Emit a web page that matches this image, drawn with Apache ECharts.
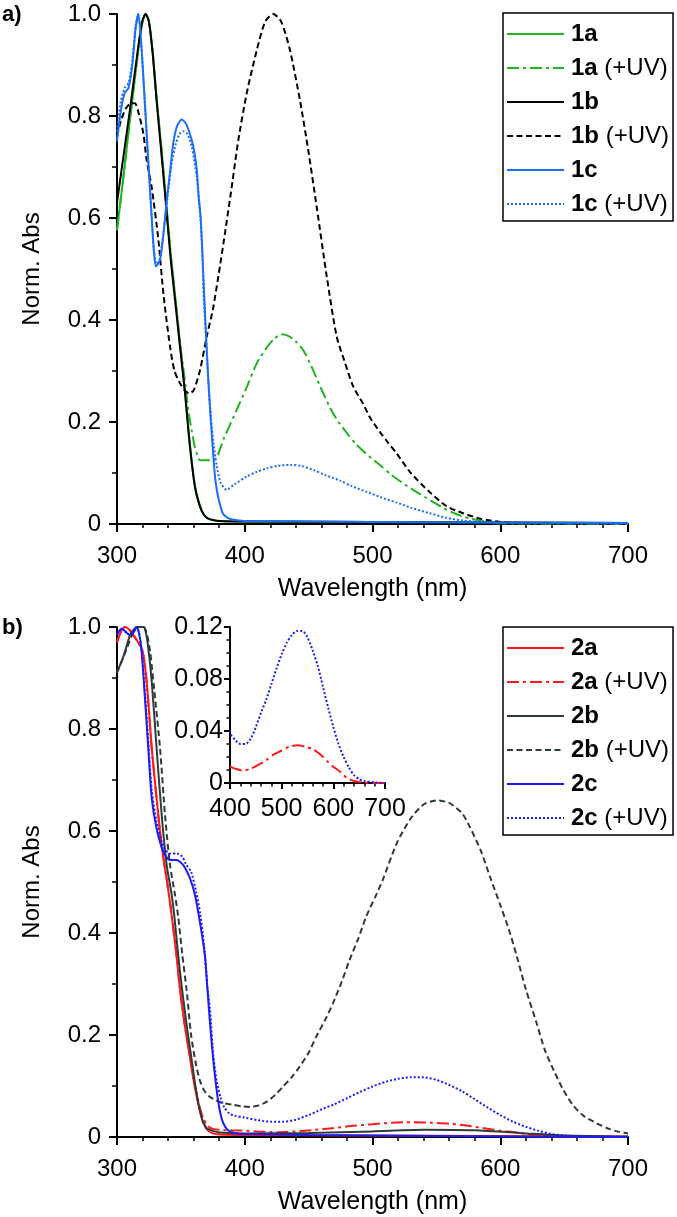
<!DOCTYPE html>
<html>
<head>
<meta charset="utf-8">
<script src="https://cdn.jsdelivr.net/npm/echarts@6/dist/echarts.min.js"></script>
<style>
  html, body { margin: 0; padding: 0; background: #fff; }
  #chart { width: 677px; height: 1217px; }
</style>
</head>
<body>
<div id="chart"></div>
<script>
// ---- panel a) ----
var wl1a = [300, 305, 310, 315, 318, 320, 322.4, 325, 328, 331, 335, 338, 342, 345.4, 349.3, 353.2, 357.1, 361, 365, 368, 371, 375, 380, 400, 500, 600, 700];
var abs1a = [0.576, 0.68, 0.79, 0.895, 0.955, 0.985, 1.0, 0.985, 0.925, 0.835, 0.73, 0.645, 0.53, 0.45, 0.355, 0.262, 0.155, 0.075, 0.035, 0.018, 0.011, 0.008, 0.006, 0.005, 0.004, 0.003, 0.002];

var wl1aUV = [300, 305, 310, 315, 318, 320, 322.4, 325, 328, 331, 335, 338, 342, 345.4, 349.3, 353.6, 356, 358.4, 361, 363, 365, 375.5, 384, 393.7, 401, 409.4, 417, 423, 428.5, 434, 440, 446, 452, 459, 466, 472, 480, 487, 495, 506, 515, 525, 535, 545, 555, 565, 576, 586, 596, 610, 700];
var abs1aUV = [0.576, 0.68, 0.79, 0.895, 0.955, 0.985, 1.0, 0.985, 0.925, 0.835, 0.73, 0.645, 0.53, 0.45, 0.355, 0.273, 0.22, 0.184, 0.15, 0.135, 0.125, 0.125, 0.17, 0.224, 0.265, 0.315, 0.345, 0.363, 0.372, 0.369, 0.358, 0.34, 0.31, 0.27, 0.232, 0.205, 0.178, 0.157, 0.138, 0.115, 0.096, 0.078, 0.062, 0.047, 0.032, 0.02, 0.011, 0.006, 0.002, 0.001, 0];

var wl1b = [300, 305, 310, 315, 318, 320, 322.4, 325, 328, 331, 335, 338, 342, 345.4, 349.3, 353.2, 357.1, 361, 365, 368, 371, 375, 380, 400, 500, 600, 700];
var abs1b = [0.63, 0.72, 0.81, 0.905, 0.96, 0.988, 1.0, 0.985, 0.92, 0.83, 0.72, 0.635, 0.52, 0.44, 0.348, 0.257, 0.152, 0.073, 0.034, 0.018, 0.011, 0.008, 0.006, 0.005, 0.004, 0.003, 0.002];

var wl1bUV = [300, 303, 307, 311, 314, 317, 320.6, 323.2, 327.1, 332.4, 336.3, 341.5, 345, 349.3, 353, 356.5, 360, 365, 370.2, 375, 379.3, 384.5, 389.8, 395, 401.5, 409.4, 416, 422.3, 428.5, 435.4, 443.2, 449.7, 456.3, 464.2, 472, 478, 485, 492.8, 498, 505.9, 512, 519, 530, 545, 558, 571, 585, 600, 620, 700];
var abs1bUV = [0.76, 0.79, 0.815, 0.825, 0.825, 0.805, 0.766, 0.714, 0.661, 0.557, 0.452, 0.348, 0.3, 0.276, 0.262, 0.256, 0.262, 0.302, 0.367, 0.42, 0.485, 0.57, 0.661, 0.753, 0.844, 0.929, 0.985, 1.0, 0.985, 0.929, 0.831, 0.733, 0.622, 0.485, 0.367, 0.32, 0.269, 0.235, 0.209, 0.18, 0.16, 0.138, 0.1, 0.062, 0.035, 0.021, 0.01, 0.004, 0.002, 0.001];

var wl1c = [300, 303, 306, 309, 312, 314.5, 316.7, 319, 321, 323.2, 325, 327.2, 329, 330.5, 332, 333.7, 336, 339, 341.5, 344, 347, 350.6, 354, 358.5, 360.5, 362.4, 364, 365.5, 367.6, 369.5, 371.5, 373.5, 375.5, 377, 379, 381, 383, 386, 390, 400, 450, 500, 600, 700];
var abs1c = [0.75, 0.81, 0.845, 0.855, 0.9, 0.97, 1.0, 0.94, 0.86, 0.766, 0.69, 0.6, 0.53, 0.505, 0.51, 0.518, 0.56, 0.635, 0.69, 0.746, 0.78, 0.793, 0.785, 0.753, 0.73, 0.695, 0.64, 0.6, 0.485, 0.38, 0.282, 0.2, 0.13, 0.086, 0.055, 0.035, 0.02, 0.013, 0.009, 0.006, 0.005, 0.004, 0.003, 0.002];

var wl1cUV = [300, 303, 306, 309, 312, 314.5, 316.7, 319, 321, 323.2, 325, 327.2, 329, 331, 333, 335, 337, 340, 343, 346, 349, 352, 355, 358.5, 362.4, 366.3, 368, 370, 371.5, 373.5, 375.5, 378, 381, 385.8, 392, 401.5, 409, 417.2, 426, 435.4, 444, 453.7, 463, 474.6, 484, 495.5, 505.9, 519, 530, 545, 558, 570, 585, 600, 700];
var abs1cUV = [0.77, 0.83, 0.855, 0.865, 0.91, 0.975, 1.0, 0.94, 0.86, 0.766, 0.69, 0.6, 0.535, 0.51, 0.515, 0.545, 0.585, 0.65, 0.71, 0.745, 0.765, 0.77, 0.765, 0.74, 0.68, 0.565, 0.44, 0.35, 0.28, 0.21, 0.16, 0.115, 0.082, 0.067, 0.078, 0.093, 0.102, 0.109, 0.114, 0.116, 0.114, 0.106, 0.096, 0.085, 0.074, 0.063, 0.053, 0.042, 0.032, 0.021, 0.012, 0.007, 0.004, 0.002, 0.001];

// ---- panel b) ----
var wl2a = [300, 303, 306.3, 309.5, 312.8, 316, 319.3, 321.3, 323.2, 325.2, 327.2, 331, 335, 338.9, 342, 346.4, 349.3, 353, 357, 360, 362.4, 365, 367.6, 371, 375, 380, 400, 500, 600, 700];
var abs2a = [0.97, 0.99, 1.0, 0.995, 0.984, 0.972, 0.958, 0.935, 0.893, 0.83, 0.762, 0.664, 0.57, 0.505, 0.45, 0.36, 0.29, 0.22, 0.157, 0.11, 0.079, 0.05, 0.027, 0.013, 0.007, 0.005, 0.004, 0.003, 0.002, 0.001];

var wl2aUV = [300, 303, 306.3, 309.5, 312.8, 316, 319.3, 321.3, 323.2, 325.2, 327.2, 331, 335, 338.9, 342, 346.4, 349.3, 353, 357, 360, 362.4, 365, 367.6, 371, 375, 380, 390, 400, 410, 425, 440, 455, 470, 485, 500, 515, 530, 545, 560, 575, 590, 600, 613, 626, 640, 660, 700];
var abs2aUV = [0.97, 0.99, 1.0, 0.995, 0.984, 0.972, 0.958, 0.935, 0.893, 0.83, 0.762, 0.664, 0.57, 0.505, 0.45, 0.36, 0.29, 0.22, 0.16, 0.115, 0.085, 0.057, 0.036, 0.022, 0.016, 0.014, 0.013, 0.0125, 0.011, 0.0095, 0.011, 0.014, 0.0175, 0.022, 0.025, 0.028, 0.029, 0.028, 0.026, 0.022, 0.016, 0.0125, 0.0087, 0.004, 0.0015, 0.0003, 0];

var wl2b = [300, 304, 307, 310.2, 313, 315.4, 318, 320.6, 322.5, 324.5, 327.2, 331, 335, 338.9, 342.8, 345, 348, 351, 354.5, 358.5, 362, 366, 370, 375, 380, 400, 450, 500, 540, 580, 620, 650, 700];
var abs2b = [0.912, 0.935, 0.958, 0.984, 0.995, 1.0, 1.0, 1.0, 0.99, 0.958, 0.893, 0.762, 0.631, 0.533, 0.475, 0.43, 0.354, 0.288, 0.22, 0.15, 0.09, 0.04, 0.018, 0.012, 0.009, 0.007, 0.008, 0.011, 0.014, 0.013, 0.007, 0.003, 0.001];

var wl2bUV = [300, 304, 308, 312, 316, 318.5, 321, 323.5, 326, 329, 333.7, 337.6, 341.5, 345.4, 348, 351, 354.5, 358, 362, 365, 368, 372, 376, 382, 391, 398, 404, 411, 417, 424, 430, 437, 443, 450, 456, 463, 469, 476, 482, 489, 495, 502, 508, 519, 530, 540, 550, 560, 570, 576, 585, 592, 600, 607, 613, 620, 628.5, 635, 642, 649.4, 657, 665, 675.5, 685, 693, 700];
var abs2bUV = [0.91, 0.935, 0.96, 0.985, 1.0, 1.0, 1.0, 0.985, 0.95, 0.88, 0.762, 0.631, 0.533, 0.475, 0.43, 0.36, 0.288, 0.2, 0.14, 0.11, 0.092, 0.08, 0.074, 0.067, 0.063, 0.06, 0.059, 0.062, 0.069, 0.083, 0.099, 0.118, 0.138, 0.165, 0.197, 0.23, 0.262, 0.305, 0.347, 0.39, 0.432, 0.47, 0.504, 0.576, 0.625, 0.652, 0.66, 0.655, 0.635, 0.609, 0.56, 0.51, 0.455, 0.405, 0.354, 0.29, 0.223, 0.17, 0.13, 0.092, 0.062, 0.042, 0.027, 0.016, 0.01, 0.007];

var wl2c = [300, 303.7, 307, 310.2, 313, 315.4, 317.5, 319.3, 321.9, 324.5, 327.2, 331, 336.3, 341.5, 346.7, 351.9, 357.1, 361, 365, 368.9, 370.8, 372.8, 375.4, 378, 380.6, 383.2, 387, 392, 400, 450, 500, 550, 600, 700];
var abs2c = [0.985, 0.997, 0.99, 0.984, 0.99, 1.0, 0.985, 0.952, 0.86, 0.762, 0.664, 0.605, 0.559, 0.543, 0.543, 0.533, 0.507, 0.475, 0.42, 0.354, 0.29, 0.223, 0.15, 0.092, 0.05, 0.027, 0.013, 0.008, 0.006, 0.004, 0.003, 0.002, 0.001, 0];

var wl2cUV = [300, 303.7, 307, 310.2, 313, 315.4, 317.5, 319.3, 321.9, 324.5, 327.2, 331, 336.3, 341.5, 347, 351, 354, 358, 362, 365, 368, 370.5, 372.8, 375.4, 378, 381, 384, 388, 392, 400, 410, 420, 430, 440, 450, 460, 470, 480, 490, 500, 510, 520, 530, 540, 550, 560, 570, 580, 590, 600, 610, 620, 630, 640, 650, 660, 680, 700];
var abs2cUV = [0.985, 0.997, 0.99, 0.984, 0.99, 1.0, 0.985, 0.952, 0.87, 0.775, 0.68, 0.618, 0.57, 0.556, 0.556, 0.55, 0.535, 0.52, 0.48, 0.44, 0.38, 0.3, 0.25, 0.16, 0.11, 0.078, 0.058, 0.046, 0.042, 0.038, 0.033, 0.03, 0.03, 0.034, 0.043, 0.054, 0.064, 0.076, 0.088, 0.099, 0.108, 0.114, 0.117, 0.117, 0.112, 0.102, 0.09, 0.074, 0.058, 0.043, 0.03, 0.02, 0.012, 0.006, 0.003, 0.0015, 0.0005, 0];

var xTicks = { min: 300, max: 700, interval: 100 };
var yTicks = { min: 0, max: 1, interval: 0.2 };
var insetX = { min: 400, max: 700, interval: 100 };
var insetY = { min: 0, max: 0.12, interval: 0.04 };

var FONT = "'Liberation Sans', Arial, sans-serif";

function pts(xs, ys) {
  return xs.map(function (x, i) { return [x, ys[i]]; });
}

function mkAxis(idx, r, extra) {
  var ax = {
    type: 'value',
    gridIndex: idx,
    min: r.min, max: r.max, interval: r.interval,
    axisLine: { show: true, onZero: false, lineStyle: { color: '#000', width: 2 } },
    axisTick: { show: true, length: 8, lineStyle: { color: '#000', width: 2 } },
    minorTick: { show: true, splitNumber: 5, length: 4, lineStyle: { color: '#000', width: 1.5 } },
    splitLine: { show: false },
    axisLabel: { color: '#000', fontSize: 24, fontFamily: FONT, margin: 20 }
  };
  for (var k in extra) ax[k] = extra[k];
  return ax;
}

function line(name, xi, yi, xs, ys, color, type) {
  return {
    name: name,
    type: 'line',
    xAxisIndex: xi, yAxisIndex: yi,
    data: pts(xs, ys),
    showSymbol: false,
    symbol: 'none',
    smooth: 0.25,
    clip: xi === 2,
    lineStyle: { color: color, width: 2, type: type || 'solid' },
    itemStyle: { color: color },
    z: 3
  };
}

var GREEN = '#22b422', BLUE1 = '#1c6ef2', RED = '#ff1a1a', GREY = '#2e3b3b', BLUE2 = '#1c1cf5';
var DASHDOT = [12, 4, 3, 4], DASH = [6, 3.5], DOT = [2, 2];

function legendFmt(name) {
  var i = name.indexOf(' ');
  if (i < 0) return '{b|' + name + '}';
  return '{b|' + name.slice(0, i) + '}{n|' + name.slice(i) + '}';
}
function mkLegend(top, names) {
  return {
    orient: 'vertical',
    left: 503, top: top,
    data: names,
    selectedMode: false,
    backgroundColor: '#fff',
    borderColor: '#000', borderWidth: 1.5,
    padding: [9, 4, 5, 3],
    itemWidth: 57, itemHeight: 14, itemGap: 10,
    // hide the round marker that line series put in the middle of the icon
    itemStyle: { color: 'rgba(0,0,0,0)', borderColor: 'rgba(0,0,0,0)', borderWidth: 0 },
    formatter: legendFmt,
    textStyle: {
      fontFamily: FONT, fontSize: 24, lineHeight: 22, color: '#000',
      rich: {
        b: { fontFamily: FONT, fontSize: 24, fontWeight: 'bold', color: '#000', padding: [0, 0, 0, 2] },
        n: { fontFamily: FONT, fontSize: 24, color: '#000' }
      }
    }
  };
}

var chart = echarts.init(document.getElementById('chart'), null, { renderer: 'canvas' });

var yFmt1 = function (v) { return v === 0 ? '0' : v.toFixed(1); };
var yFmt2 = function (v) { return v === 0 ? '0' : v.toFixed(2); };

var xName = { color: '#000', fontSize: 25, fontFamily: FONT };
var yName = { color: '#000', fontSize: 24, fontFamily: FONT };

var option = {
  backgroundColor: '#fff',
  animation: false,
  textStyle: { fontFamily: FONT },
  graphic: [
    { type: 'text', left: 2, top: 4, style: { text: 'a)', font: 'bold 22px ' + FONT, fill: '#000' } },
    { type: 'text', left: 2, top: 617, style: { text: 'b)', font: 'bold 22px ' + FONT, fill: '#000' } }
  ],
  grid: [
    { left: 117, right: 49, top: 14, bottom: 693 },
    { left: 117, right: 49, top: 627, bottom: 80 },
    { left: 230, right: 292, top: 627, bottom: 434 }
  ],
  xAxis: [
    mkAxis(0, xTicks, { name: 'Wavelength (nm)', nameLocation: 'middle', nameGap: 53, nameTextStyle: xName }),
    mkAxis(1, xTicks, { name: 'Wavelength (nm)', nameLocation: 'middle', nameGap: 53, nameTextStyle: xName }),
    mkAxis(2, insetX, {
      axisTick: { show: true, length: 6, lineStyle: { color: '#000', width: 2 } },
      minorTick: { show: true, splitNumber: 5, length: 3.5, lineStyle: { color: '#000', width: 1.5 } },
      axisLabel: { color: '#000', fontSize: 25, fontFamily: FONT, margin: 14 }
    })
  ],
  yAxis: [
    mkAxis(0, yTicks, {
      name: 'Norm. Abs', nameLocation: 'middle', nameGap: 73, nameTextStyle: yName,
      minorTick: { show: true, splitNumber: 2, length: 5, lineStyle: { color: '#000', width: 1.5 } },
      axisLabel: { color: '#000', fontSize: 24, fontFamily: FONT, margin: 16, formatter: yFmt1 }
    }),
    mkAxis(1, yTicks, {
      name: 'Norm. Abs', nameLocation: 'middle', nameGap: 73, nameTextStyle: yName,
      minorTick: { show: true, splitNumber: 2, length: 5, lineStyle: { color: '#000', width: 1.5 } },
      axisLabel: { color: '#000', fontSize: 24, fontFamily: FONT, margin: 16, formatter: yFmt1 }
    }),
    mkAxis(2, insetY, {
      axisTick: { show: true, length: 6, lineStyle: { color: '#000', width: 2 } },
      minorTick: { show: true, splitNumber: 4, length: 3.5, lineStyle: { color: '#000', width: 1.5 } },
      axisLabel: { color: '#000', fontSize: 25, fontFamily: FONT, margin: 7, formatter: yFmt2 }
    })
  ],
  legend: [
    mkLegend(13, ['1a', '1a (+UV)', '1b', '1b (+UV)', '1c', '1c (+UV)']),
    mkLegend(627, ['2a', '2a (+UV)', '2b', '2b (+UV)', '2c', '2c (+UV)'])
  ],
  series: [
    line('1a', 0, 0, wl1a, abs1a, GREEN),
    line('1a (+UV)', 0, 0, wl1aUV, abs1aUV, GREEN, DASHDOT),
    line('1b', 0, 0, wl1b, abs1b, '#000'),
    line('1b (+UV)', 0, 0, wl1bUV, abs1bUV, '#000', DASH),
    line('1c', 0, 0, wl1c, abs1c, BLUE1),
    line('1c (+UV)', 0, 0, wl1cUV, abs1cUV, BLUE1, DOT),

    line('2a', 1, 1, wl2a, abs2a, RED),
    line('2a (+UV)', 1, 1, wl2aUV, abs2aUV, RED, DASHDOT),
    line('2b', 1, 1, wl2b, abs2b, GREY),
    line('2b (+UV)', 1, 1, wl2bUV, abs2bUV, GREY, DASH),
    line('2c', 1, 1, wl2c, abs2c, BLUE2),
    line('2c (+UV)', 1, 1, wl2cUV, abs2cUV, BLUE2, DOT),

    // inset: the two irradiated spectra, zoomed
    line('inset 2a (+UV)', 2, 2, wl2aUV, abs2aUV, RED, DASHDOT),
    line('inset 2c (+UV)', 2, 2, wl2cUV, abs2cUV, BLUE2, DOT)
  ]
};

chart.setOption(option);
</script>
</body>
</html>
